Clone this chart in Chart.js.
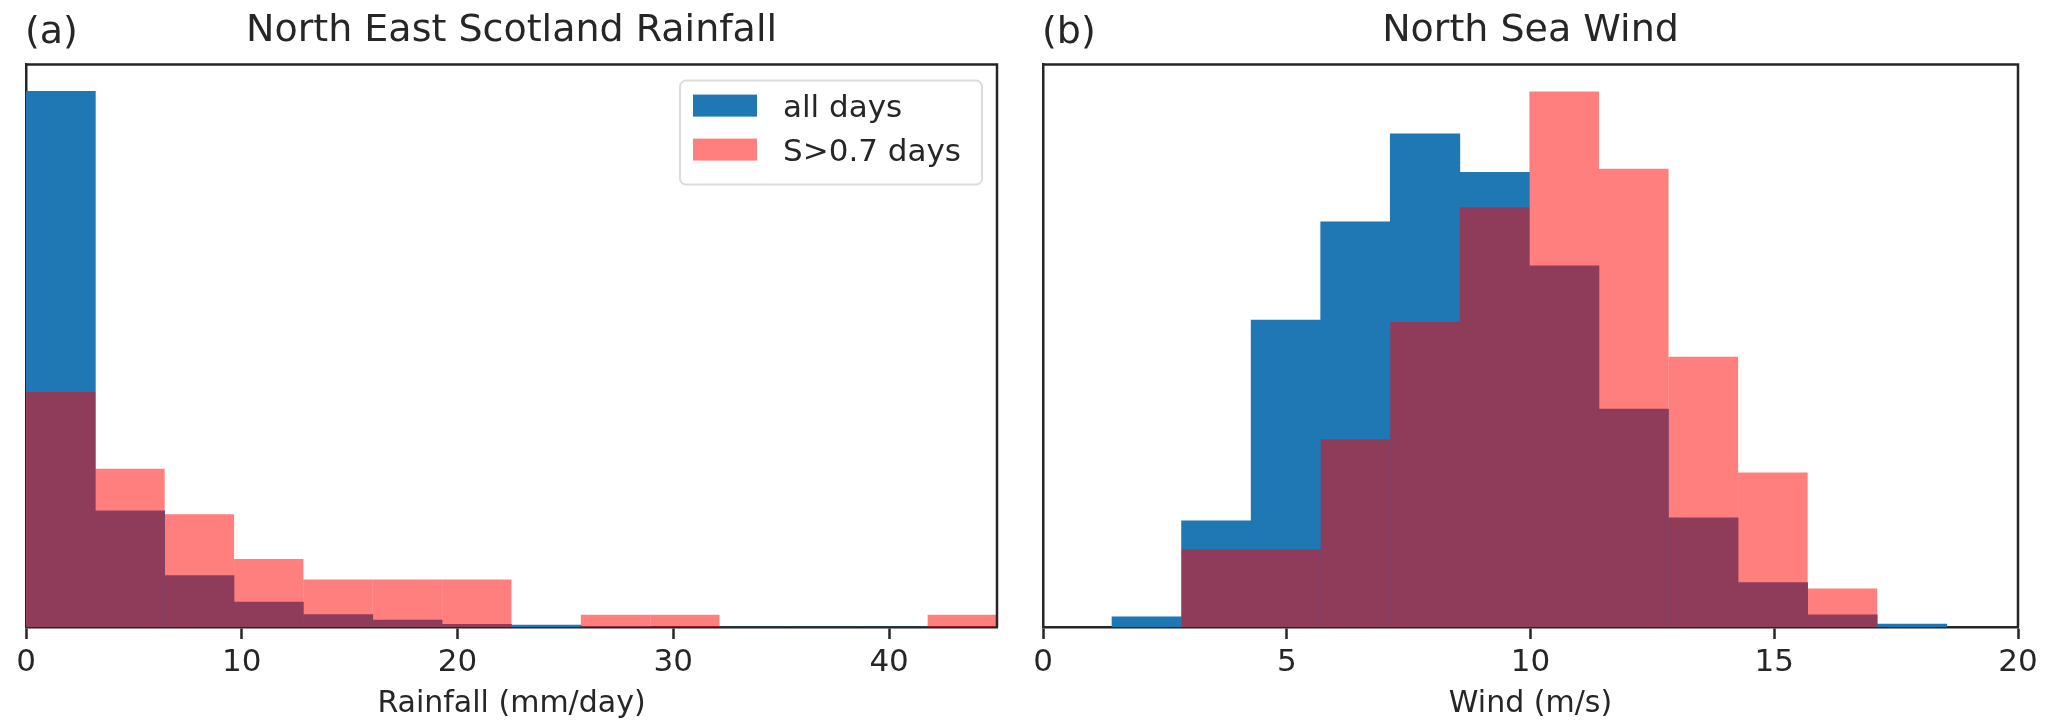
<!DOCTYPE html>
<html>
<head>
<meta charset="utf-8">
<title>North East Scotland Rainfall / North Sea Wind</title>
<script src="https://cdn.jsdelivr.net/npm/chart.js@4.4.0/dist/chart.umd.min.js"></script>
<style>
  html, body { margin: 0; padding: 0; background: #fff; }
  #wrap { position: relative; width: 2051px; height: 721px; }
  .panel { position: absolute; top: 0; height: 721px; }
  #panelA { left: 0; width: 1025px; }
  #panelB { left: 1025px; width: 1026px; }
</style>
</head>
<body>
<div id="wrap">
  <div class="panel" id="panelA"><canvas id="rain"></canvas></div>
  <div class="panel" id="panelB"><canvas id="wind"></canvas></div>
</div>
<script>
// ---- data (density histograms) ----
const seriesNames = ['all days', 'S>0.7 days'];

// rainfall: 14 bins between 0 and 45 mm/day, bin centres
const rainBins = [1.607, 4.821, 8.036, 11.25, 14.464, 17.679, 20.893, 24.107, 27.321, 30.536, 33.75, 36.964, 40.179, 43.393];
const rainAllDays = [0.2214, 0.0480, 0.0213, 0.0103, 0.0051, 0.0029, 0.0011, 0.0008, 0.0002, 0, 0, 0, 0, 0];
const rainStormDays = [0.0971, 0.0654, 0.0466, 0.0281, 0.0196, 0.0196, 0.0196, 0, 0.0051, 0.0051, 0, 0, 0, 0.0051];
const rainTicks = [0, 10, 20, 30, 40];

// wind: 12 bins between 1.4 and 18.5 m/s, bin centres
const windBins = [2.129, 3.556, 4.983, 6.41, 7.837, 9.264, 10.691, 12.118, 13.545, 14.972, 16.399, 17.826];
const windAllDays = [0.0028, 0.0295, 0.0852, 0.1125, 0.1369, 0.1262, 0.1003, 0.0605, 0.0303, 0.0123, 0.0034, 0.0008];
const windStormDays = [0, 0.0215, 0.0215, 0.0521, 0.0847, 0.1165, 0.1487, 0.1272, 0.0750, 0.0429, 0.0107, 0];
const windTicks = [0, 5, 10, 15, 20];

const FONT = 'DejaVu Sans';
const INK = '#262626';
const BLUE = '#1f77b4';
const RED = 'rgba(255, 0, 0, 0.5)';

// top/right spines, panel letter and the in-axes legend
const frameAndLegend = {
  id: 'frameAndLegend',
  afterDraw(chart, args, opts) {
    const { ctx, chartArea: ca } = chart;
    ctx.save();
    ctx.strokeStyle = INK;
    ctx.lineWidth = 2.5;
    ctx.beginPath();
    ctx.moveTo(ca.left, ca.top);
    ctx.lineTo(ca.right, ca.top);
    ctx.lineTo(ca.right, ca.bottom);
    ctx.stroke();

    ctx.fillStyle = INK;
    ctx.font = '38px "' + FONT + '"';
    ctx.textAlign = 'left';
    ctx.textBaseline = 'alphabetic';
    ctx.fillText(opts.letter, ca.left - 1, ca.top - 22);

    if (opts.showLegend) {
      const w = 302, h = 104;
      const left = ca.right - 15 - w, top = ca.top + 16;
      ctx.beginPath();
      ctx.roundRect(left, top, w, h, 6);
      ctx.fillStyle = 'rgba(255,255,255,0.8)';
      ctx.fill();
      ctx.strokeStyle = '#dcdcdc';
      ctx.lineWidth = 2;
      ctx.stroke();
      ctx.font = '31px "' + FONT + '"';
      chart.data.datasets.forEach((ds, i) => {
        const y = top + 14 + i * 44;
        ctx.fillStyle = ds.backgroundColor;
        ctx.fillRect(left + 13, y, 64, 22);
        ctx.fillStyle = INK;
        ctx.fillText(ds.label, left + 103, y + 22);
      });
    }
    ctx.restore();
  }
};

function histDataset(label, bins, values, color, order, inflate) {
  return {
    label: label,
    data: bins.map((x, i) => ({ x: x, y: values[i] })),
    backgroundColor: color,
    borderWidth: 0,
    barPercentage: 1,
    categoryPercentage: 1,
    grouped: false,
    inflateAmount: inflate,
    order: order
  };
}

function histChart(id, cfg) {
  const yMax = Math.max(...cfg.all, ...cfg.storm) * 1.05;
  return new Chart(document.getElementById(id), {
    type: 'bar',
    data: {
      datasets: [
        histDataset(seriesNames[0], cfg.bins, cfg.all, BLUE, 2, 'auto'),
        // translucent bars: no inflation, otherwise the overlaps show as dark seams
        histDataset(seriesNames[1], cfg.bins, cfg.storm, RED, 1, 0)
      ]
    },
    options: {
      responsive: true,
      maintainAspectRatio: false,
      animation: false,
      layout: { padding: { left: 0, top: 0, bottom: 0, right: cfg.rightPad } },
      scales: {
        x: {
          type: 'linear',
          min: cfg.xMin,
          max: cfg.xMax,
          offset: false,
          z: 1,
          afterBuildTicks: s => { s.ticks = cfg.ticks.map(v => ({ value: v })); },
          afterFit: s => { s.height = 94; },
          ticks: { font: { family: FONT, size: 31 }, color: INK, padding: 5, maxRotation: 0, autoSkip: false },
          grid: { display: true, drawOnChartArea: false, drawTicks: true, tickLength: 12, tickWidth: 2.5, tickColor: INK, offset: false },
          border: { display: true, color: INK, width: 2.5 },
          title: { display: true, text: cfg.xLabel, color: INK, font: { family: FONT, size: 30, lineHeight: 1.1 }, padding: { top: 0, bottom: 0 } }
        },
        y: {
          min: 0,
          max: yMax,
          z: 1,
          afterFit: s => { s.width = cfg.yWidth; },
          ticks: { display: false },
          grid: { display: false },
          border: { display: true, color: INK, width: 2.5 }
        }
      },
      plugins: {
        legend: { display: false },
        tooltip: { enabled: false },
        title: {
          display: true,
          text: cfg.title,
          fullSize: false,
          align: 'center',
          color: INK,
          font: { family: FONT, size: 38, weight: 'normal', lineHeight: 1.2 },
          padding: { top: 8, bottom: 11 }
        },
        frameAndLegend: { letter: cfg.letter, showLegend: cfg.showLegend }
      }
    },
    plugins: [frameAndLegend]
  });
}

histChart('rain', {
  title: 'North East Scotland Rainfall', letter: '(a)', xLabel: 'Rainfall (mm/day)',
  bins: rainBins, all: rainAllDays, storm: rainStormDays, ticks: rainTicks,
  xMin: 0, xMax: 45, yWidth: 26, rightPad: 28, showLegend: true
});

histChart('wind', {
  title: 'North Sea Wind', letter: '(b)', xLabel: 'Wind (m/s)',
  bins: windBins, all: windAllDays, storm: windStormDays, ticks: windTicks,
  xMin: 0, xMax: 20, yWidth: 18, rightPad: 33, showLegend: false
});
</script>
</body>
</html>
